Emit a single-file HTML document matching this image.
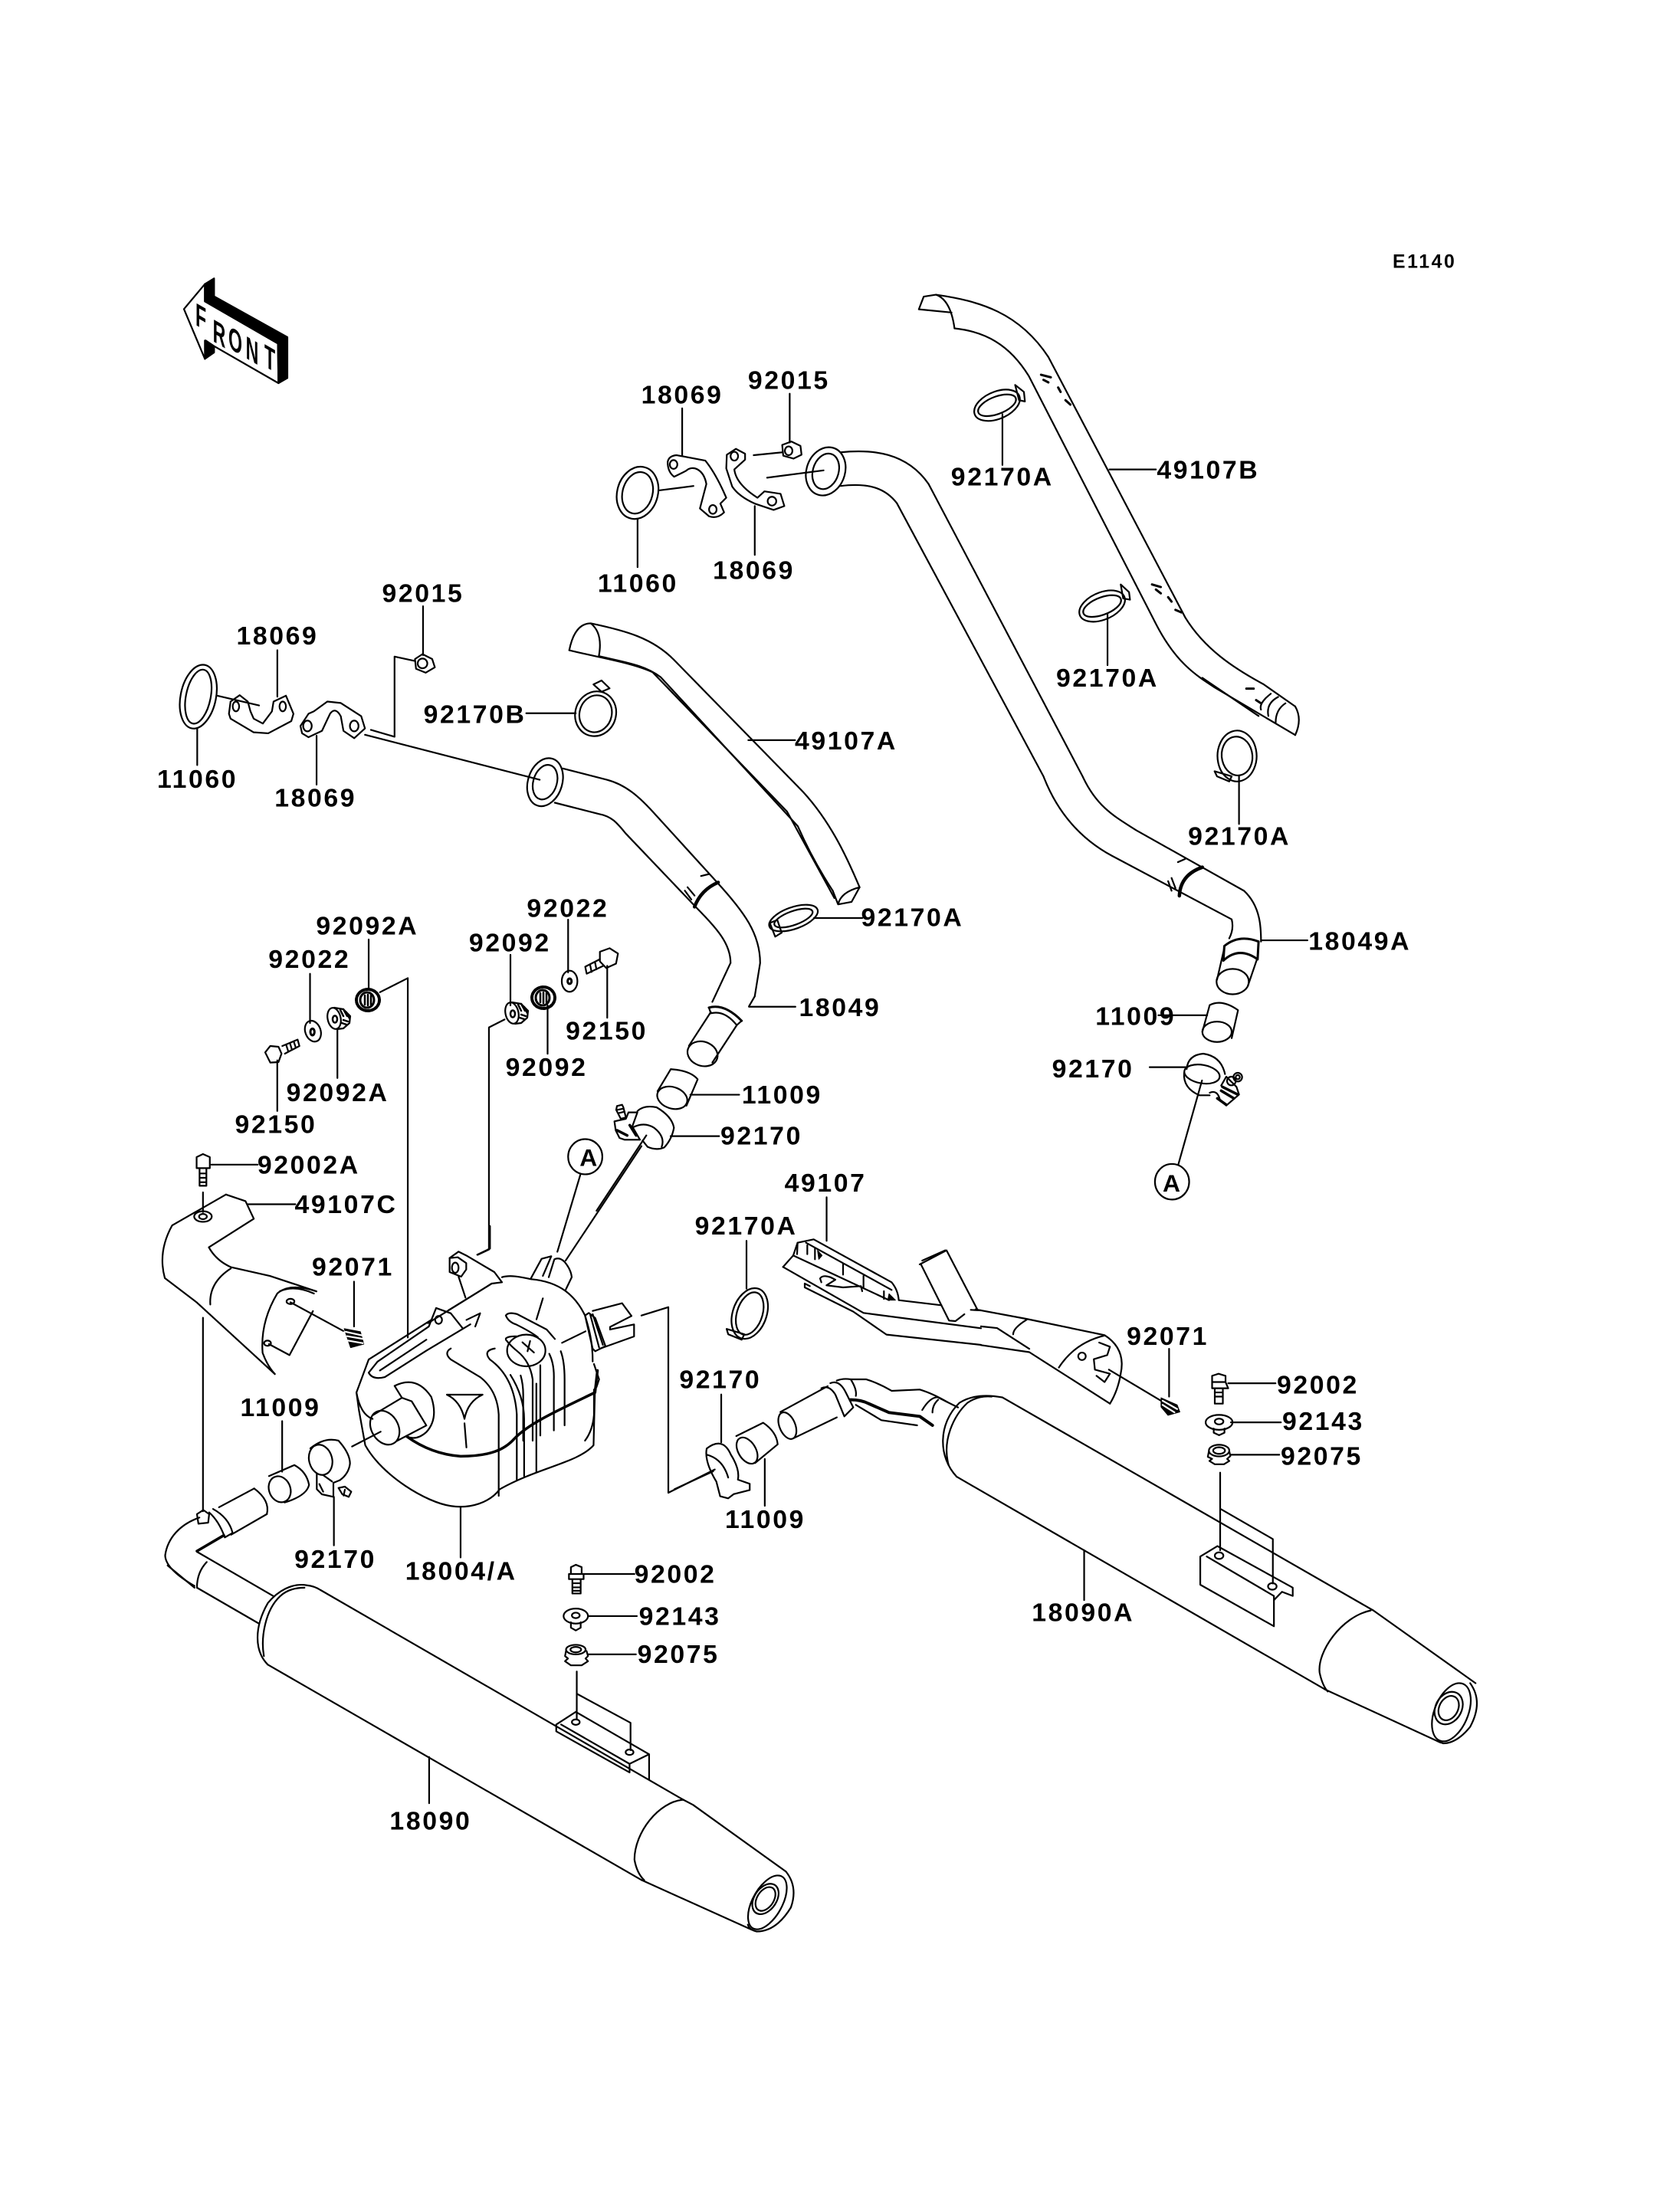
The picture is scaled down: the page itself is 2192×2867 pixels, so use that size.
<!DOCTYPE html>
<html><head><meta charset="utf-8"><style>
html,body{margin:0;padding:0;background:#fff}
svg{display:block}
path,ellipse,circle,line,polygon{fill:none;stroke:#000;stroke-width:2.2;vector-effect:non-scaling-stroke;stroke-linejoin:round;stroke-linecap:round}
.k{fill:#000}
.t{stroke-width:4.5}
.w{fill:#fff}
text{font-family:"Liberation Sans",sans-serif;font-weight:bold;font-size:34px;letter-spacing:2.6px;text-anchor:middle;fill:#000}
</style></head><body>
<svg xmlns="http://www.w3.org/2000/svg" width="2192" height="2867">
<defs>
<g id="gd"><ellipse rx="15" ry="14" style="stroke-width:4;stroke-dasharray:3 2"/><ellipse cx="-1" rx="9" ry="10" style="stroke-width:3"/><path d="M-4,-6V6M0,-7V7M4,-6V6" style="stroke-width:2.5"/></g>
<g id="gl"><ellipse rx="8.5" ry="14" transform="rotate(-12)"/><ellipse cx="1" cy="1" rx="3" ry="4.5" style="stroke-width:2.5"/><path d="M0,-14L12,-12L21,-3L20,6L12,13L4,14"/><path d="M8,-11L12,-3M12,-12L17,-3M16,-8L20,0M12,2L18,4M10,6L16,8" style="stroke-width:2.5"/></g>
</defs>
<!-- FRONT arrow, true px -->
<g transform="translate(220,350) scale(.3333)">
<polygon class="k" points="142,62 178,40 178,110 465,270 465,430 430,450 428,295 142,130"/>
<polygon class="k" points="142,283 178,310 178,330 142,355"/>
<path d="M60,160L142,62L142,130L428,295L430,450L178,305L145,283L142,355Z"/>
</g>
<text transform="translate(262,428) skewY(30) scale(.55,1)" style="font-size:42px;letter-spacing:0">F</text>
<text transform="translate(286,450) skewY(30) scale(.55,1)" style="font-size:42px;letter-spacing:0">R</text>
<text transform="translate(307,459) skewY(30) scale(.55,1)" style="font-size:42px;letter-spacing:0">O</text>
<text transform="translate(329,472) skewY(30) scale(.55,1)" style="font-size:42px;letter-spacing:0">N</text>
<text transform="translate(352,482) skewY(30) scale(.55,1)" style="font-size:42px;letter-spacing:0">T</text>
<!-- ZOOM 1 -->
<g transform="translate(150,300) scale(.7015,.6378)">
<ellipse cx="972" cy="538" rx="38" ry="54" transform="rotate(12 972 538)"/>
<ellipse cx="972" cy="538" rx="28" ry="43" transform="rotate(12 972 538)"/>
<path d="M972,592V690M1012,533L1076,524M1055,365V462M1190,565V665M1188,461L1242,455M1213,507L1318,492M1255,335V435"/>
<path d="M1028,475Q1030,462 1045,461L1098,472C1115,495 1128,525 1137,548L1126,560L1133,578Q1120,592 1105,586L1088,570L1100,520C1095,490 1075,480 1062,493Q1050,500 1040,505Q1028,495 1028,475Z"/>
<ellipse cx="1039" cy="480" rx="7" ry="9"/><ellipse cx="1112" cy="572" rx="7" ry="9"/>
<path d="M1138,460L1155,448L1172,458L1172,470L1152,490Q1155,520 1195,548L1208,535L1238,540L1245,565L1225,573L1190,560Q1160,545 1148,525L1137,488Z"/>
<ellipse cx="1152" cy="463" rx="7" ry="9"/><ellipse cx="1222" cy="555" rx="8" ry="9"/>
<polygon points="1241,440 1258,433 1275,442 1277,460 1262,468 1243,462"/><ellipse cx="1253" cy="452" rx="7" ry="9"/>
<ellipse cx="1322" cy="494" rx="36" ry="50" transform="rotate(14 1322 494)"/>
<ellipse cx="1322" cy="494" rx="24" ry="37" transform="rotate(14 1322 494)"/>
<!-- left cluster -->
<ellipse cx="155" cy="955" rx="33" ry="66" transform="rotate(10 155 955)"/>
<ellipse cx="155" cy="955" rx="23" ry="56" transform="rotate(10 155 955)"/>
<path d="M153,1020V1095M190,953L268,973M302,860V955M375,1035V1135M476,1023L520,1037V873L558,882M573,770V870M465,1033L790,1125"/>
<path d="M212,990L215,965L232,952L247,965L252,985L258,1000L275,1010L292,985L295,965L318,953L332,990L328,1005L285,1030L258,1028L215,1000Z"/>
<ellipse cx="225" cy="975" rx="6" ry="10"/><ellipse cx="312" cy="975" rx="6" ry="10"/>
<path d="M345,1015L360,990L370,985L395,965L420,968L458,995L465,1020L445,1040L425,1025L420,995Q410,975 400,990L385,1025L360,1038L348,1030Z"/>
<ellipse cx="358" cy="1015" rx="8" ry="11"/><ellipse cx="445" cy="1015" rx="8" ry="11"/>
<polygon points="558,878 572,868 590,878 595,895 578,906 560,898"/><ellipse cx="572" cy="887" rx="9" ry="10"/>
<!-- pipe 18049 -->
<ellipse cx="800" cy="1130" rx="32" ry="50" transform="rotate(14 800 1130)"/>
<ellipse cx="800" cy="1130" rx="22" ry="36" transform="rotate(14 800 1130)"/>
<path d="M833,1102L915,1125C950,1135 975,1160 1000,1190L1120,1335C1170,1395 1200,1440 1200,1500L1190,1568"/>
<path d="M818,1172L900,1195C925,1200 935,1215 950,1235L1080,1385C1120,1430 1145,1460 1145,1500"/>
<path class="t" d="M1078,1385Q1090,1350 1122,1335"/>
<path d="M1060,1352L1072,1370M1065,1345L1078,1362M1090,1322L1105,1318"/>
<!-- 92170B clamp -->
<path d="M765,989H857"/>
<ellipse cx="894" cy="990" rx="38" ry="46" transform="rotate(10 894 990)"/>
<ellipse cx="894" cy="990" rx="30" ry="38" transform="rotate(10 894 990)"/>
<path d="M890,930L905,922L920,938L905,945Z"/>
<!-- 49107A -->
<path d="M845,860Q855,805 885,805Q908,825 900,872"/>
<path d="M885,805C950,820 1000,835 1040,880L1280,1150C1330,1210 1360,1280 1385,1345"/>
<path d="M845,860C900,875 960,885 1000,905L1250,1190C1280,1250 1310,1310 1338,1367"/>
<path d="M900,872C950,885 985,890 1015,915L1270,1220C1290,1270 1310,1310 1335,1352"/>
<path d="M1385,1345L1370,1375L1345,1380Q1350,1355 1385,1345M1335,1352L1345,1380"/>
<path d="M1178,1044H1265M1300,1408H1390"/>
<!-- clamp -->
<ellipse cx="1262" cy="1408" rx="48" ry="22" transform="rotate(-22 1262 1408)"/>
<ellipse cx="1262" cy="1408" rx="38" ry="14" transform="rotate(-22 1262 1408)"/>
<path d="M1218,1418L1232,1412L1240,1438L1228,1446Z"/>
</g>

<!-- ZOOM 2 -->
<g transform="translate(1100,300) scale(.6378,.8292)">
<path d="M-5,350C60,345 130,350 175,400L490,860C520,910 560,925 600,945L820,1040C855,1065 855,1100 855,1120"/>
<path d="M-5,403C50,398 85,405 110,430L410,860C440,920 490,960 550,985L795,1085Q800,1100 790,1115"/>
<path class="t" d="M688,1048Q690,1015 735,1003"/>
<path d="M665,1025L672,1040M672,1020L680,1036M685,995L700,990"/>
<path d="M155,125L165,105L190,102Q220,110 228,155M155,125L222,130"/>
<path d="M190,102C280,112 360,130 420,200L700,610C740,660 800,690 860,715L925,750"/>
<path d="M228,155C290,160 340,180 380,230L640,620C680,680 720,700 760,720L925,795"/>
<path d="M925,750Q940,770 925,795M735,705L850,765M905,745Q885,755 885,775M890,735Q865,745 870,765M875,730Q850,745 855,755"/>
<path style="stroke-width:3" d="M405,228L425,232M410,236L420,240M440,248L445,255M455,268L465,275M632,558L650,562M640,566L650,572M665,578L672,585M680,598L692,602M825,722L840,722M845,740L855,745"/>
<ellipse cx="315" cy="276" rx="48" ry="22" transform="rotate(-15 315 276)"/>
<ellipse cx="315" cy="276" rx="40" ry="14" transform="rotate(-15 315 276)"/>
<path d="M352,244L370,255L372,270L360,268Z"/>
<ellipse cx="530" cy="592" rx="48" ry="22" transform="rotate(-15 530 592)"/>
<ellipse cx="530" cy="592" rx="40" ry="14" transform="rotate(-15 530 592)"/>
<path d="M568,558L585,570L587,582L573,580Z"/>
<ellipse cx="806" cy="828" rx="40" ry="40" transform="rotate(30 806 828)"/>
<ellipse cx="806" cy="828" rx="32" ry="30" transform="rotate(30 806 828)"/>
<path d="M760,852L795,860L790,868L765,860Z"/>
<path d="M326,290V370M541,605V685M810,860V935M545,377H640M855,1118H950M645,1236H745"/>
<path class="t" d="M780,1127Q810,1108 850,1120L848,1148Q810,1127 778,1150Z" style="stroke-width:3"/>
<path d="M780,1130L765,1180M848,1145L828,1190"/>
<ellipse cx="797" cy="1183" rx="33" ry="20"/>
<path d="M750,1220Q775,1210 808,1228L795,1272M750,1220L735,1262"/>
<ellipse cx="765" cy="1262" rx="30" ry="16"/>
<ellipse cx="673" cy="1498" rx="35" ry="28"/>
</g>
<!-- right clamp true px -->
<g transform="translate(1500,1340) scale(.3333)">
<path d="M0,158H145M205,210L112,540"/>
<path d="M145,165Q150,110 210,105Q280,115 295,185"/>
<ellipse cx="205" cy="185" rx="70" ry="36" transform="rotate(10 205 185)"/>
<path d="M135,180Q130,240 195,268L235,268"/>
<path d="M235,258Q265,245 275,285L300,308L350,265L340,235L300,195L280,230"/>
<circle cx="345" cy="197" r="17"/><circle cx="345" cy="197" r="8"/>
<circle cx="320" cy="212" r="17"/>
<path style="stroke-width:3.5" d="M285,235L345,265M280,250L330,280M265,280L300,305"/>
</g>

<!-- ZOOM 3 -->
<g transform="translate(180,1180) scale(.6378,.574)">
<path d="M1262,209L1250,232M1212,134L1175,222"/>
<path d="M472,80V190M352,158V270M408,285V395M285,355V470M762,115V230M838,230V340M880,35V155M960,140V258"/>
<path d="M495,200L552,168V985M750,262L718,280V785L695,797"/>
<ellipse cx="883" cy="175" rx="16" ry="24"/><ellipse cx="883" cy="175" rx="4" ry="6" style="stroke-width:3"/>
<polygon points="945,108 965,100 982,112 978,135 958,145 945,130"/>
<path d="M945,125L915,142L918,158L952,140M925,138L928,154M935,132L938,148"/>
<!-- 18049 end -->
<path class="t" d="M1168,235Q1200,225 1235,265" style="stroke-width:3"/>
<path d="M1168,235L1172,248Q1200,240 1225,275L1235,265"/>
<path d="M1172,245L1127,322M1225,275L1175,360"/>
<ellipse cx="1155" cy="340" rx="32" ry="27" transform="rotate(30 1155 340)"/>
<path d="M1250,233H1345M1130,433H1230"/>
<path d="M1090,375Q1130,378 1145,398L1122,458M1090,375L1063,425"/>
<ellipse cx="1093" cy="440" rx="32" ry="24" transform="rotate(25 1093 440)"/>
<ellipse cx="915" cy="574" rx="35" ry="40"/>
<path d="M905,615L858,790M1030,550L875,810"/>
<!-- muffler lower/left -->
<path d="M600,945L472,1035L447,1110L452,1150L465,1230C500,1300 590,1360 640,1368C680,1375 720,1360 740,1330C820,1280 900,1270 932,1230L935,1100"/>
<path d="M595,960L610,918L640,930L665,965L680,955M595,960L490,1040M665,965L590,1015L505,1075Q480,1082 472,1065L490,1040"/>
<ellipse cx="615" cy="945" rx="7" ry="9"/>
<path d="M672,945L700,930M690,960L700,930"/>
<path d="M495,1060L590,990"/>
<path d="M640,1010Q625,1020 640,1035L700,1075Q735,1105 738,1160V1345"/>
<path d="M730,1010Q705,1015 720,1035Q770,1075 775,1160V1310"/>
<path d="M762,1070Q790,1120 790,1170V1300M815,1090V1290"/>
<!-- seam -->
<path class="t" d="M550,1210Q600,1250 660,1255C720,1255 750,1240 770,1215C800,1180 860,1150 935,1110L940,1060" style="stroke-width:3.5"/>
<path d="M447,1110Q455,1160 480,1170"/>
<!-- inlet -->
<ellipse cx="505" cy="1190" rx="28" ry="40" transform="rotate(-22 505 1190)"/>
<path d="M480,1162L540,1122L560,1130L590,1185L530,1220M525,1095Q570,1070 600,1120Q615,1170 590,1200Q570,1220 550,1210M540,1122L525,1095"/>
<path d="M632,1115H705M632,1115Q660,1130 668,1170M705,1115Q675,1130 668,1170M668,1180L672,1235"/>
<path d="M295,1175V1290M660,1372V1485M225,682H322M442,858V960M133,655V700M150,592H245M133,940V1380"/>
<path d="M268,1300L320,1275Q345,1290 350,1320Q345,1345 300,1360"/>
<ellipse cx="290" cy="1330" rx="22" ry="30" transform="rotate(-15 290 1330)"/>
<path d="M120,575L133,568L147,575L147,600H120ZM126,600V640H140V600M126,612H140M126,622H140M126,632H140"/>
<ellipse cx="133" cy="710" rx="18" ry="12"/><ellipse cx="133" cy="710" rx="8" ry="6"/>
<!-- shield 49107C -->
<path d="M180,660L220,675L237,715L145,780Q160,810 190,825L270,845L365,880"/>
<path d="M180,660L70,730Q40,790 55,850L120,905L280,1068"/>
<path d="M190,828Q145,860 148,910"/>
<path d="M365,880Q310,860 285,885Q250,950 255,1020Q265,1050 280,1068"/>
<path d="M290,880Q320,865 360,885"/>
<path d="M312,905L420,970M358,925L310,1025L268,1000"/>
<ellipse cx="312" cy="903" rx="8" ry="6"/><ellipse cx="265" cy="998" rx="7" ry="6"/>
<path class="k" style="stroke-width:1" d="M422,965L455,972L462,1000L435,1008Z"/>
<path style="stroke:#fff" d="M425,972L458,980M428,982L460,988M430,992L460,998"/>
<!-- leader to right clamp -->
<path d="M1030,935L1085,916V1338L1180,1285"/>
</g>
<!-- gears & washer, true px -->
<use href="#gd" x="480" y="1305"/>
<use href="#gl" x="436" y="1329"/>
<use href="#gl" x="668" y="1322"/>
<use href="#gd" x="709" y="1302"/>
<g transform="translate(320,1230) scale(.3333)">
<ellipse cx="265" cy="347" rx="30" ry="42" transform="rotate(-20 265 347)"/>
<ellipse cx="263" cy="350" rx="8" ry="13" style="stroke-width:3"/>
<polygon points="78,430 98,405 130,408 142,435 130,468 98,470"/>
<path d="M145,405L205,380L212,405L155,435M160,400L168,425M175,394L183,420M190,388L198,412"/>
</g>
<!-- clamps, true px -->
<g transform="translate(760,1400) scale(.3333)">
<path d="M345,248H535M250,245L55,540"/>
<path d="M215,150Q240,125 290,135Q350,170 358,215Q350,260 320,292Q290,305 255,290L235,265"/>
<path d="M195,215Q240,190 280,215Q325,250 310,290"/>
<path d="M125,190L130,225L145,255L165,262L225,262L195,210L215,155L180,155L170,180Z"/>
<path d="M135,130L155,125L160,135L170,175L150,180L132,145ZM137,145L160,140M140,158L165,152"/>
<path style="stroke-width:3.5" d="M135,225L175,245M185,205L210,245"/>
</g>
<g transform="translate(400,1840) scale(.3333)">
<path d="M178,143L290,85M107,340V530"/>
<path d="M15,150Q70,105 125,120Q170,170 170,210Q165,250 130,275"/>
<ellipse cx="55" cy="195" rx="45" ry="60" transform="rotate(-15 55 195)"/>
<path d="M40,250V310L60,330L105,340V285L130,275M65,255L100,280M50,290L65,320"/>
<path d="M125,305L150,300L175,320L165,340L140,330ZM150,312L145,335"/>
</g>

<!-- muffler top zoom -->
<g transform="translate(560,1600) scale(.3333)">
<path d="M188,112L238,88V0"/>
<path d="M80,125L115,100L145,115L255,180L285,220L245,225L75,330"/>
<path d="M80,125V180L125,198L145,170L145,145L112,122Z"/>
<ellipse cx="102" cy="163" rx="13" ry="20"/>
<path d="M115,198L142,280"/>
<path d="M285,200C320,190 360,200 400,208"/>
<path d="M245,225L-5,380"/>
<path d="M535,255C580,290 600,330 610,350C625,400 640,450 640,530"/>
<path d="M398,205L440,128L478,118L445,195"/>
<path d="M400,208Q480,215 535,255"/>
<path d="M468,200L490,130Q510,120 530,140Q555,170 558,200L535,248"/>
<path d="M445,283L420,365M300,350Q310,335 345,345L460,405L492,442M300,350Q310,375 340,385Q400,415 425,435M520,457L612,412"/>
<ellipse cx="380" cy="487" rx="75" ry="62"/>
<path d="M395,450L385,490M365,455L410,495"/>
<path d="M300,440Q310,430 345,432M300,445Q320,470 345,490Q395,530 405,600V840"/>
<path d="M515,490Q530,530 530,600V780M470,500Q490,540 488,600V800M435,545V820M358,585Q368,620 368,660V840"/>
<path d="M610,350L625,340L650,360L690,470L650,490L640,480L610,350"/>
<path d="M630,345L665,475M640,345L680,465"/>
<path d="M640,332L755,302L792,352L708,395L708,405L802,385V432L668,480"/>
<path d="M645,540L665,600L655,630"/>
<path d="M645,640V740Q640,800 610,840"/>
</g>

<!-- ZOOM 4 -->
<g transform="translate(880,1500) scale(.7015,.542)">
<path d="M134,220V335M283,115V220M920,480V595M1030,563H1118M1035,657H1128M1035,735H1125M1015,778V965M1015,865L1113,938V1045M762,965V1085M87,590V705M168,745V858"/>
<ellipse cx="140" cy="395" rx="32" ry="62" transform="rotate(12 140 395)"/>
<ellipse cx="140" cy="395" rx="24" ry="52" transform="rotate(12 140 395)"/>
<path d="M97,432L130,445L125,458L100,445Z"/>
<!-- 49107 shield right part -->
<path d="M560,385L655,408L800,447Q840,480 830,540Q825,580 810,612"/>
<path d="M660,488L810,612M570,426L600,430L660,480M570,471L660,488"/>
<path d="M655,410Q630,430 630,445M715,525Q745,465 800,448"/>
<ellipse cx="758" cy="498" rx="7" ry="9"/>
<path d="M790,465L810,475L805,495L780,505L782,530L810,540L800,560L785,545"/>
<path d="M808,530L905,605"/>
<path class="k" style="stroke-width:1" d="M905,598L935,615L940,632L918,640L905,620Z"/>
<path style="stroke:#fff" d="M908,605L935,625M908,615L930,633"/>
<!-- bolts -->
<path d="M1000,545L1012,540L1025,545V560L1030,575H1000V560ZM1005,575V612H1020V575M1005,585H1020M1005,595H1020M1000,560H1025"/>
<ellipse cx="1013" cy="657" rx="25" ry="18"/><ellipse cx="1013" cy="655" rx="8" ry="7"/>
<path d="M1003,672V682L1013,688L1023,682V672"/>
<ellipse cx="1013" cy="725" rx="19" ry="14"/><ellipse cx="1013" cy="725" rx="11" ry="8"/>
<path d="M994,727L992,740L1000,745L995,750L1005,758H1022L1032,750L1028,745L1034,738L1032,727"/>
<!-- bracket -->
<path d="M978,980L1010,955L1150,1055V1075L1130,1065L1115,1085V1148L978,1048Z"/>
<path d="M990,980L1115,1075M1115,1085V1075"/>
<ellipse cx="1013" cy="978" rx="8" ry="8"/><ellipse cx="1112" cy="1052" rx="8" ry="8"/>
<!-- muffler -->
<path d="M525,788C490,740 490,660 530,610Q560,585 610,597"/>
<path d="M510,760C497,700 520,640 545,610Q565,592 590,595"/>
<path d="M610,597L1300,1110M525,788L1210,1300"/>
<path d="M1295,1110C1240,1125 1195,1210 1200,1260Q1205,1290 1215,1305"/>
<path d="M1300,1110L1490,1285M1210,1300L1425,1428"/>
<path d="M1480,1285Q1505,1330 1480,1390Q1455,1430 1430,1430L1420,1425"/>
<ellipse cx="1445" cy="1355" rx="32" ry="72" transform="rotate(15 1445 1355)"/>
<ellipse cx="1440" cy="1345" rx="25" ry="40" transform="rotate(15 1440 1345)"/>
<ellipse cx="1440" cy="1345" rx="18" ry="30" transform="rotate(15 1440 1345)"/>
<!-- pipe -->
<path d="M197,632L285,570M222,695L302,645"/>
<ellipse cx="210" cy="665" rx="15" ry="33" transform="rotate(-15 210 665)"/>
<!-- clamp -->
<path d="M60,720Q90,690 105,735Q122,770 118,795L140,805V820L110,830L100,840L85,835L78,800Q55,750 60,720Z"/>
<path d="M60,735Q90,745 100,790"/>
<path d="M0,818L72,775"/>
<path d="M115,690L165,658Q190,680 192,710L150,755"/>
<ellipse cx="135" cy="725" rx="17" ry="33" transform="rotate(-20 135 725)"/>
</g>
<!-- 49107 left part + elbow, true px -->
<g transform="translate(1020,1600) scale(.3333)">
<path d="M5,160L45,115L62,65L125,52L430,220Q455,250 458,290L625,310"/>
<path d="M5,160L320,340L780,400"/>
<path d="M90,225V240L280,335L410,425L780,465M90,225L110,235"/>
<path d="M62,65L60,110M100,75V110M130,85V130M240,145V190M320,195V240M400,255V285M45,115L420,290M95,65L430,250"/>
<path class="k" style="stroke-width:1" d="M140,95L158,115L145,130Z"/>
<path class="k" style="stroke-width:1" d="M420,265L445,290H415Z"/>
<path d="M150,205Q160,190 190,200L210,210L175,232L240,240L310,235L315,255M150,205L155,220"/>
<path d="M540,150L645,95L765,325M550,135L640,95M545,150L655,370L680,372L715,345M740,328L780,330"/>
<path d="M155,635Q185,620 210,660L245,745M190,615Q225,600 250,650L280,710L245,745M215,605Q240,595 270,600Q295,640 290,665"/>
<path d="M270,600L330,600Q380,615 430,645L540,640Q590,655 650,690"/>
<path d="M270,680Q310,680 340,695L420,730L540,745L590,780" style="stroke-width:4"/>
<path d="M290,700Q340,730 390,760L530,780M550,720Q580,670 610,670L690,710M590,730Q590,700 612,680"/>
</g>

<!-- ZOOM 5 -->
<g transform="translate(190,1900) scale(.6378,.4464)">
<polygon points="105,170 118,158 130,170 128,195 108,198"/>
<path d="M110,180C70,200 45,240 40,290Q40,330 100,380"/>
<path class="t" d="M105,278L160,232" style="stroke-width:3.5"/>
<path d="M138,155Q170,180 178,225L162,238Q150,190 130,165"/>
<path d="M150,150L222,95M175,230L248,170"/>
<path d="M222,95Q255,130 248,170"/>
<path d="M125,310Q105,340 105,385M45,320L100,385"/>
<path d="M105,280L262,410M105,385L232,490"/>
<path d="M250,610C222,570 222,500 250,430C270,395 300,370 330,378Q345,380 358,392"/>
<path d="M242,585C235,530 245,450 275,410C290,390 310,385 325,385"/>
<path d="M358,392L1100,1005M250,610L1015,1240"/>
<path d="M1100,1005C1050,1010 1000,1100 1000,1180Q1005,1220 1020,1240"/>
<path d="M1100,1005L1120,1020L1310,1215M1015,1240L1240,1385"/>
<path d="M1310,1215Q1335,1260 1320,1320Q1290,1390 1250,1390Q1235,1385 1232,1370"/>
<ellipse cx="1272" cy="1305" rx="32" ry="82" transform="rotate(18 1272 1305)"/>
<ellipse cx="1268" cy="1295" rx="24" ry="46" transform="rotate(18 1268 1295)"/>
<ellipse cx="1268" cy="1295" rx="18" ry="36" transform="rotate(18 1268 1295)"/>
<path d="M840,785L880,748L1030,872V945M840,785V805L990,925V900L1030,872M850,785L990,900"/>
<ellipse cx="880" cy="778" rx="8" ry="8"/><ellipse cx="990" cy="866" rx="8" ry="8"/>
<path d="M882,630V770M882,695L992,780V860M580,880V1015"/>
<path d="M870,325L880,318L892,325V345H870ZM866,345H896V360H866ZM873,360V402H890V360M873,372H890M873,384H890M873,394H890"/>
<path d="M895,345H1000M905,468H1005M905,580H1003"/>
<ellipse cx="880" cy="468" rx="25" ry="22"/><ellipse cx="880" cy="466" rx="8" ry="8"/>
<path d="M870,486V502L880,510L890,502V486"/>
<ellipse cx="880" cy="566" rx="20" ry="14"/><ellipse cx="880" cy="566" rx="11" ry="8"/>
<path d="M860,570L858,585L864,592L858,600L870,612H892L905,600L900,592L905,585L902,570"/>
</g>

<!-- labels -->
<g transform="scale(.9945,.9931)">
<text x="1869" y="352" style="font-size:25px">E1140</text>
<text x="895" y="530">18069</text>
<text x="1035" y="511">92015</text>
<text x="1315" y="638">92170A</text>
<text x="1585" y="629">49107B</text>
<text x="837" y="778">11060</text>
<text x="989" y="761">18069</text>
<text x="555" y="791">92015</text>
<text x="364" y="847">18069</text>
<text x="623" y="950">92170B</text>
<text x="1110" y="985">49107A</text>
<text x="259" y="1035">11060</text>
<text x="414" y="1060">18069</text>
<text x="1197" y="1217">92170A</text>
<text x="1784" y="1248">18049A</text>
<text x="1453" y="902">92170A</text>
<text x="1626" y="1110">92170A</text>
<text x="1490" y="1347">11009</text>
<text x="1434" y="1416">92170</text>
<text x="745" y="1205">92022</text>
<text x="482" y="1228">92092A</text>
<text x="669" y="1250">92092</text>
<text x="406" y="1272">92022</text>
<text x="1102" y="1335">18049</text>
<text x="796" y="1366">92150</text>
<text x="717" y="1414">92092</text>
<text x="443" y="1447">92092A</text>
<text x="1026" y="1450">11009</text>
<text x="362" y="1489">92150</text>
<text x="999" y="1504">92170</text>
<text x="405" y="1542">92002A</text>
<text x="454" y="1594">49107C</text>
<text x="1083" y="1566">49107</text>
<text x="979" y="1622">92170A</text>
<text x="463" y="1676">92071</text>
<text x="1532" y="1767">92071</text>
<text x="945" y="1824">92170</text>
<text x="1729" y="1831">92002</text>
<text x="1736" y="1879">92143</text>
<text x="1734" y="1925">92075</text>
<text x="368" y="1861">11009</text>
<text x="1004" y="2008">11009</text>
<text x="440" y="2060">92170</text>
<text x="605" y="2076">18004/A</text>
<text x="886" y="2080">92002</text>
<text x="892" y="2135">92143</text>
<text x="890" y="2185">92075</text>
<text x="1421" y="2130">18090A</text>
<text x="565" y="2404">18090</text>
<text x="772" y="1532" style="font-size:32px;letter-spacing:0">A</text>
<text x="1537" y="1566" style="font-size:32px;letter-spacing:0">A</text>
</g>
</svg>
</body></html>
